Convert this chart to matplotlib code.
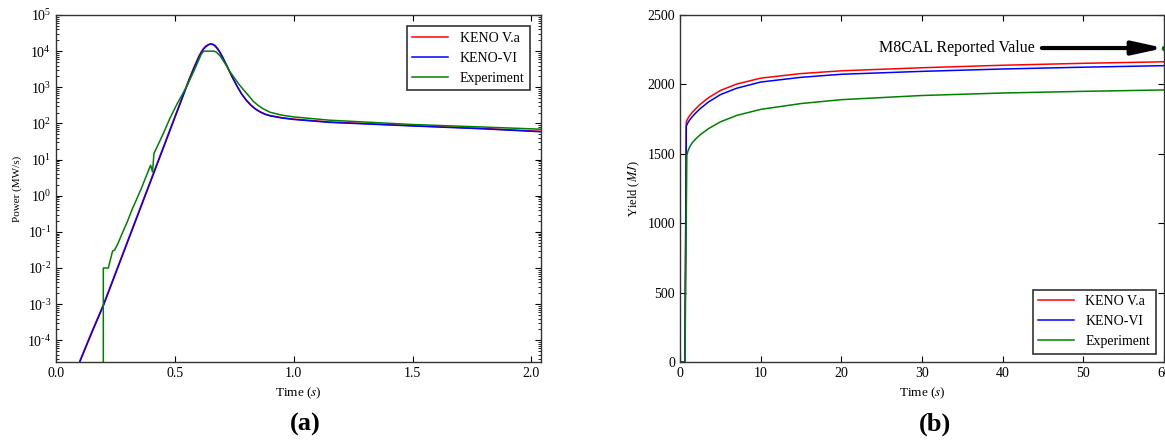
import numpy as np
import matplotlib.pyplot as plt
from matplotlib.ticker import LogLocator, NullFormatter, FixedLocator, FixedFormatter

plt.rcParams['font.family'] = ['Liberation Serif', 'DejaVu Serif']
plt.rcParams['mathtext.fontset'] = 'stix'

# (a) power vs time (log10 of MW/s)
t_keno = [0.10, 0.15, 0.20, 0.30, 0.41, 0.50, 0.56, 0.58, 0.60, 0.61, 0.62, 0.63, 0.64,
          0.65, 0.66, 0.67, 0.68, 0.69, 0.70, 0.72, 0.74, 0.76, 0.78, 0.80, 0.82, 0.84,
          0.86, 0.88, 0.90, 0.95, 1.00, 1.15, 1.50, 1.80, 2.04]
logp_vi = [-4.60, -3.80, -3.03, -1.30, 0.60, 2.16, 3.20, 3.52, 3.82, 3.95, 4.05, 4.12, 4.17,
           4.20, 4.19, 4.15, 4.07, 3.97, 3.85, 3.58, 3.30, 3.05, 2.82, 2.64, 2.50, 2.39,
           2.31, 2.25, 2.21, 2.15, 2.11, 2.03, 1.93, 1.85, 1.77]
logp_va = [-4.57, -3.77, -3.00, -1.27, 0.63, 2.19, 3.23, 3.55, 3.85, 3.97, 4.07, 4.14, 4.18,
           4.20, 4.18, 4.13, 4.05, 3.95, 3.83, 3.57, 3.30, 3.05, 2.83, 2.65, 2.51, 2.40,
           2.32, 2.26, 2.22, 2.16, 2.12, 2.04, 1.94, 1.86, 1.78]

t_exp = [0.199, 0.199, 0.220, 0.238, 0.247, 0.262, 0.276, 0.300, 0.320, 0.339, 0.360,
         0.380, 0.398, 0.406, 0.412, 0.45, 0.479, 0.51, 0.549, 0.58, 0.60, 0.61, 0.618,
         0.625, 0.665, 0.675, 0.69, 0.71, 0.73, 0.75, 0.77, 0.79, 0.81, 0.83, 0.85, 0.87,
         0.90, 0.95, 1.00, 1.15, 1.50, 1.80, 2.04]
logp_exp = [-6.0, -2.0, -2.0, -1.53, -1.50, -1.30, -1.08, -0.72, -0.38, -0.10, 0.22,
            0.55, 0.845, 0.66, 1.17, 1.70, 2.14, 2.55, 3.01, 3.45, 3.75, 3.90, 3.98,
            4.00, 4.00, 3.97, 3.87, 3.67, 3.45, 3.26, 3.08, 2.92, 2.77, 2.61, 2.50, 2.41,
            2.31, 2.23, 2.18, 2.09, 1.97, 1.90, 1.84]

# (b) yield vs time (MJ)
t_y = [0.0, 0.60, 0.70, 0.78, 0.9, 1.0, 1.2, 1.5, 2.0, 2.5, 3.5, 5, 7, 10, 15, 20, 30, 40, 50, 60]
y_va = [0, 0, 900, 1731, 1745, 1757, 1775, 1797, 1828, 1856, 1903, 1956, 2002, 2045, 2078,
        2098, 2120, 2138, 2152, 2163]
y_vi = [0, 0, 880, 1700, 1714, 1726, 1744, 1766, 1797, 1825, 1872, 1926, 1972, 2017, 2051,
        2073, 2094, 2111, 2124, 2135]
t_ye = [0.0, 0.62, 0.72, 0.85, 1.0, 1.2, 1.5, 2.0, 2.5, 3.5, 5, 7, 10, 15, 20, 30, 40, 50, 60]
y_exp = [0, 0, 700, 1490, 1522, 1550, 1578, 1610, 1637, 1680, 1730, 1776, 1820, 1862, 1890,
         1920, 1938, 1950, 1960]
m8cal = 2262

fig = plt.figure(figsize=(11.65, 4.43), dpi=100)
ax1 = fig.add_axes([56/1165, 1-362/443, 485/1165, 347/443])
ax2 = fig.add_axes([680/1165, 1-362/443, 484/1165, 347/443])

ax1.semilogy(t_keno, 10**np.array(logp_va), color='red', lw=1.1, label='KENO V.a')
ax1.semilogy(t_keno, 10**np.array(logp_vi), color='blue', lw=1.1, label='KENO-VI')
ax1.semilogy(t_exp, 10**np.array(logp_exp), color='green', lw=1.1, label='Experiment')
ax1.set_xlim(0, 2.04)
ax1.set_ylim(10**-4.6, 1e5)
ax1.set_xticks([0.0, 0.5, 1.0, 1.5, 2.0])
ax1.set_xticklabels(['0.0', '0.5', '1.0', '1.5', '2.0'])
exps = list(range(-4, 6))
ax1.yaxis.set_major_locator(FixedLocator([10.0**k for k in exps]))
ax1.yaxis.set_major_formatter(FixedFormatter(
    [r'$\mathregular{10^{%s}}$' % (r'\text{-}%d' % -k if k < 0 else '%d' % k) for k in exps]))
ax1.yaxis.set_minor_locator(LogLocator(base=10, subs=np.arange(2, 10), numticks=100))
ax1.yaxis.set_minor_formatter(NullFormatter())
ax1.set_xlabel('Time ($s$)', fontsize=9.5)
ax1.set_ylabel('Power (MW/s)', fontsize=8)

ax2.plot(t_y, y_va, color='red', lw=1.1, label='KENO V.a')
ax2.plot(t_y, y_vi, color='blue', lw=1.1, label='KENO-VI')
ax2.plot(t_ye, y_exp, color='green', lw=1.1, label='Experiment')
ax2.plot([60], [m8cal], 'o', color='green', ms=3)
ax2.set_xlim(0, 60)
ax2.set_ylim(0, 2500)
ax2.set_xticks(range(0, 61, 10))
ax2.set_yticks(range(0, 2501, 500))
ax2.set_xlabel('Time ($s$)', fontsize=9.5)
ax2.set_ylabel('Yield ($MJ$)', fontsize=9)
ax2.annotate('M8CAL Reported Value', xy=(60, m8cal), xytext=(44, m8cal),
             ha='right', va='center', fontsize=11.5,
             arrowprops=dict(arrowstyle='-|>,head_length=1.6,head_width=0.35',
                             color='black', lw=3, shrinkA=3, shrinkB=0))

for ax in (ax1, ax2):
    ax.tick_params(which='both', direction='in', top=True, right=True, labelsize=10)
    ax.tick_params(which='major', length=4)
    ax.tick_params(which='minor', length=2)
    for s in ax.spines.values():
        s.set_color('#333333')
        s.set_linewidth(1.0)

leg1 = ax1.legend(loc='upper right', fontsize=10, fancybox=False, edgecolor='#333333',
                  handlelength=2.6, borderaxespad=0.8, framealpha=1)
leg2 = ax2.legend(loc='lower right', fontsize=10, fancybox=False, edgecolor='#333333',
                  handlelength=2.6, borderaxespad=0.6, framealpha=1)
for leg in (leg1, leg2):
    leg.get_frame().set_linewidth(1.2)

fig.text(305/1165, 1-424/443, '(a)', ha='center', va='center', fontsize=19, fontweight='bold')
fig.text(935/1165, 1-424/443, '(b)', ha='center', va='center', fontsize=19, fontweight='bold')

fig.savefig('out.png', dpi=100)
